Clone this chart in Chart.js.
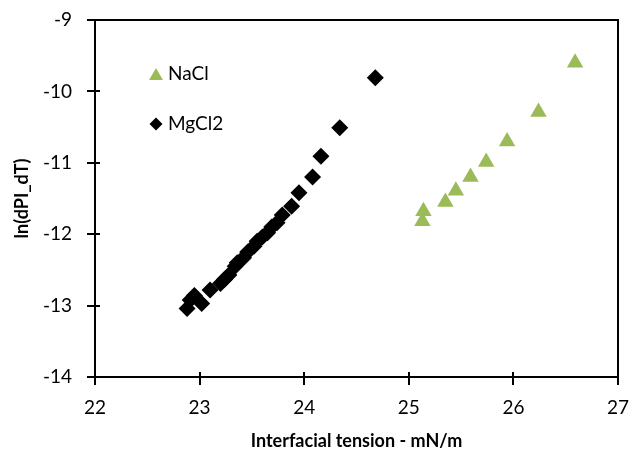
<!DOCTYPE html>
<html>
<head>
<meta charset="utf-8">
<script src="https://cdn.jsdelivr.net/npm/chart.js@4/dist/chart.umd.min.js"></script>
<style>
	html, body { margin: 0; padding: 0; background: #fff; }
	#wrap { width: 630px; height: 452px; position: relative; }
</style>
</head>
<body>
<div id="wrap"><canvas id="scatterChart"></canvas></div>
<script>
// Data
const naclX = [26.59, 26.24, 25.94, 25.74, 25.59, 25.45, 25.35, 25.14, 25.13];
const naclY = [-9.60, -10.29, -10.70, -10.99, -11.20, -11.39, -11.55, -11.68, -11.82];

const mgcl2X = [24.68, 24.34, 24.16, 24.08, 23.95, 23.88, 23.79, 23.74, 23.69, 23.65, 23.60,
	23.55, 23.52, 23.46, 23.42, 23.36, 23.34, 23.28, 23.24, 23.20, 23.10, 23.02, 22.95, 22.91, 22.88];
const mgcl2Y = [-9.81, -10.51, -10.91, -11.20, -11.42, -11.61, -11.73, -11.84, -11.90, -11.98, -12.04,
	-12.10, -12.17, -12.25, -12.33, -12.40, -12.45, -12.57, -12.63, -12.69, -12.78, -12.97, -12.86, -12.92, -13.04];

const xTicks = [22, 23, 24, 25, 26, 27];
const yTicks = [-14, -13, -12, -11, -10, -9];

const FONT = 'Lato, "Open Sans", sans-serif';
const GREEN = '#9bbb59';

function toPoints(xs, ys) {
	return xs.map((x, i) => ({ x: x, y: ys[i] }));
}

// Frame, inner tick stubs and the legend inside the plot
const framePlugin = {
	id: 'frame',
	afterDraw(chart) {
		let ctx = chart.ctx;
		let a = chart.chartArea;
		ctx.save();
		ctx.strokeStyle = '#000';
		ctx.lineWidth = 2;
		ctx.strokeRect(a.left, a.top, a.right - a.left, a.bottom - a.top);

		ctx.beginPath();
		xTicks.forEach(v => {
			let px = Math.round(chart.scales.x.getPixelForValue(v));
			ctx.moveTo(px, a.bottom);
			ctx.lineTo(px, a.bottom - 5);
		});
		yTicks.forEach(v => {
			let py = Math.round(chart.scales.y.getPixelForValue(v));
			ctx.moveTo(a.left, py);
			ctx.lineTo(a.left + 5, py);
		});
		ctx.stroke();

		// legend
		let items = chart.data.datasets;
		ctx.font = '19px ' + FONT;
		ctx.textBaseline = 'middle';
		ctx.textAlign = 'left';
		items.forEach((ds, i) => {
			let cx = a.left + 61;
			let cy = a.top + 54 + i * 50;
			let style = {
				pointStyle: ds.pointStyle,
				radius: ds.pointStyle === 'triangle' ? 8 : 6.5,
				rotation: 0,
				borderWidth: 0,
			};
			ctx.fillStyle = ds.backgroundColor;
			ctx.strokeStyle = ds.backgroundColor;
			Chart.helpers.drawPoint(ctx, style, cx, cy + (ds.pointStyle === 'triangle' ? 2 : 0));
			ctx.fillStyle = '#000';
			ctx.fillText(ds.label, a.left + 73, cy);
		});
		ctx.restore();
	}
};

new Chart(document.getElementById('scatterChart'), {
	type: 'scatter',
	data: {
		datasets: [
			{
				label: 'NaCl',
				data: toPoints(naclX, naclY),
				pointStyle: 'triangle',
				pointRadius: 9.5,
				pointHoverRadius: 9.5,
				backgroundColor: GREEN,
				borderColor: GREEN,
				borderWidth: 0,
			},
			{
				label: 'MgCl2',
				data: toPoints(mgcl2X, mgcl2Y),
				pointStyle: 'rectRot',
				pointRadius: 8.5,
				pointHoverRadius: 8.5,
				backgroundColor: '#000',
				borderColor: '#000',
				borderWidth: 0,
			},
		],
	},
	options: {
		responsive: true,
		maintainAspectRatio: false,
		animation: false,
		layout: { padding: { left: 0, top: 20, right: 12, bottom: 0 } },
		plugins: {
			legend: { display: false },
			tooltip: { enabled: false },
		},
		scales: {
			x: {
				type: 'linear',
				min: 22,
				max: 27,
				afterBuildTicks: s => { s.ticks = xTicks.map(v => ({ value: v })); },
				afterFit: s => {
					s.height = 75;
					s.paddingLeft = 0;
					s.paddingRight = 0;
				},
				grid: { drawOnChartArea: false, tickLength: 8, color: '#000', lineWidth: 2 },
				border: { color: '#000', width: 2 },
				ticks: { color: '#000', padding: 11, font: { family: FONT, size: 19 } },
				title: {
					display: true,
					text: 'Interfacial tension - mN/m',
					color: '#000',
					padding: { top: 0, bottom: 0 },
					font: { family: FONT, size: 18, weight: 'bold' },
				},
			},
			y: {
				type: 'linear',
				min: -14,
				max: -9,
				afterBuildTicks: s => { s.ticks = yTicks.map(v => ({ value: v })); },
				afterFit: s => {
					s.width = 95;
					s.paddingTop = 0;
					s.paddingBottom = 0;
				},
				grid: { drawOnChartArea: false, tickLength: 8, color: '#000', lineWidth: 2 },
				border: { color: '#000', width: 2 },
				ticks: { color: '#000', padding: 15, font: { family: FONT, size: 19 } },
				title: {
					display: true,
					text: 'ln(dPI_dT)',
					color: '#000',
					padding: { top: 11, bottom: 0 },
					font: { family: FONT, size: 18, weight: 'bold' },
				},
			},
		},
	},
	plugins: [framePlugin],
});
</script>
</body>
</html>
